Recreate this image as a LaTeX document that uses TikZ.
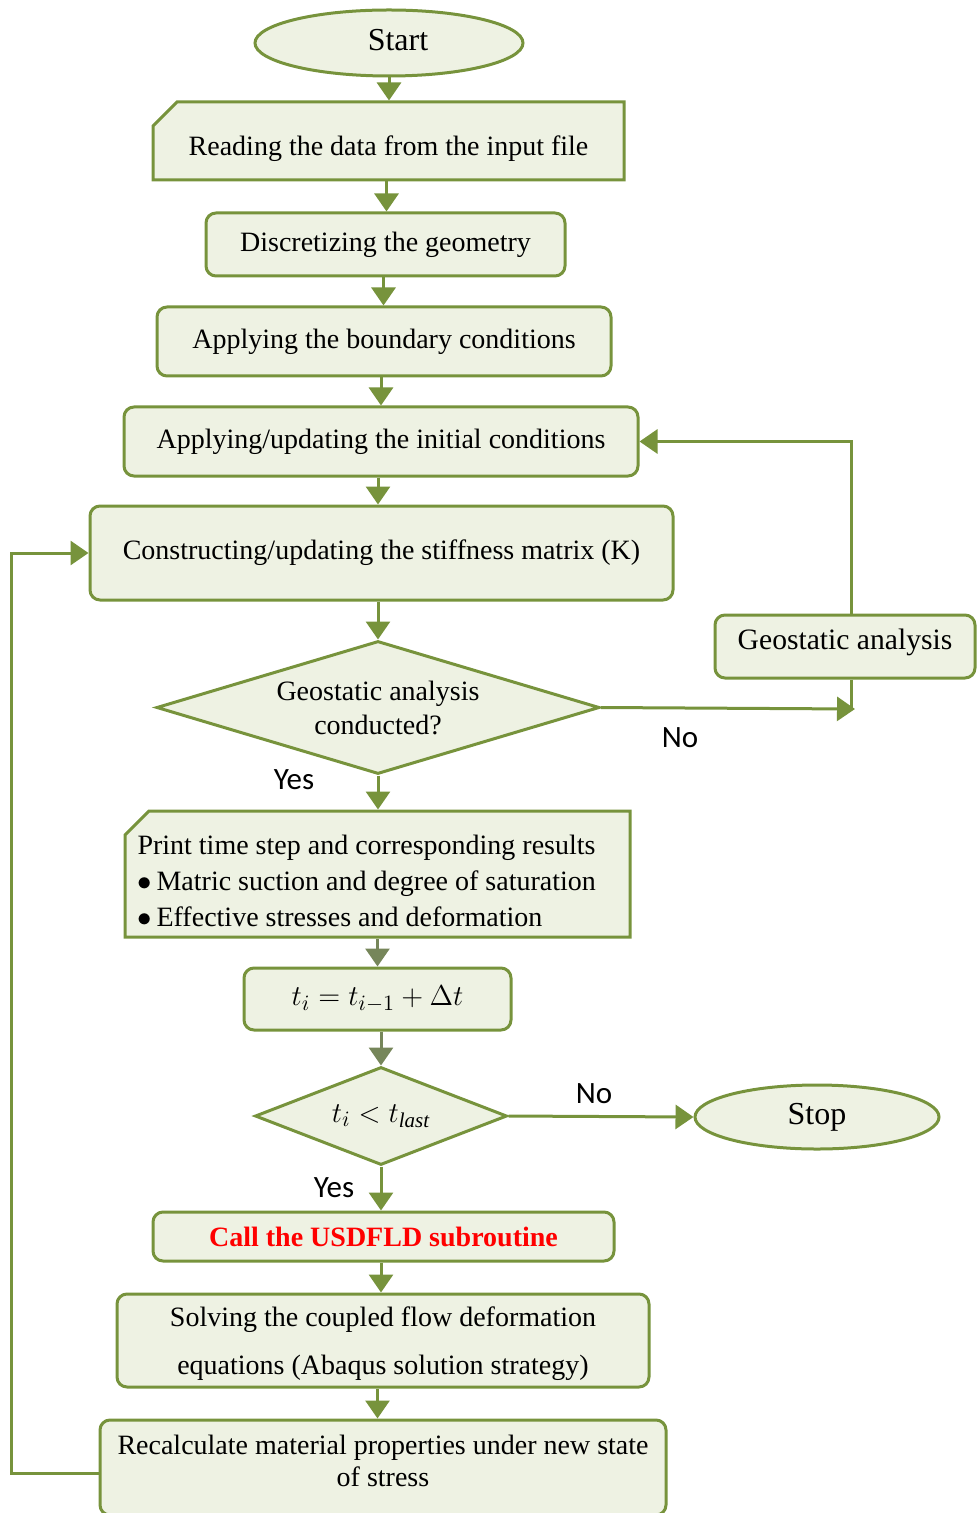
\documentclass[tikz,border=0pt]{standalone}
\usepackage{fontspec}
\setmainfont{Liberation Serif}
\newfontfamily\lblfont{Carlito}
\usetikzlibrary{shapes.geometric,shapes.misc,arrows.meta}
\definecolor{edge}{HTML}{77933C}
\definecolor{boxfill}{HTML}{EEF2E3}
\definecolor{greyarrow}{HTML}{76865A}
\definecolor{callred}{HTML}{FF0000}

\begin{document}
\begin{tikzpicture}[x=0.5pt,y=-0.5pt,
  every node/.style={font=\fontsize{14}{17}\selectfont},
  base/.style={draw=edge, fill=boxfill, line width=1.5pt, inner sep=0pt, align=center},
  rbox/.style={base, rectangle, rounded corners=5pt},
  cbox/.style={base, chamfered rectangle, chamfered rectangle corners=north west,
               chamfered rectangle xsep=6pt, chamfered rectangle ysep=6pt},
  oval/.style={base, ellipse, font=\fontsize{16}{19}\selectfont},
  choice/.style={base, diamond},
  arr/.style={draw=edge, line width=1.5pt, -{Triangle[width=12pt,length=9pt]}},
  garr/.style={arr, draw=greyarrow},
  link/.style={draw=edge, line width=1.5pt},
  lbl/.style={font=\lblfont\fontsize{15.5}{18}\selectfont}]

\useasboundingbox (0,0) rectangle (977,1513);

% main column
\node[oval, minimum width=134pt, minimum height=33pt] (start) at (389,43)
  {\hspace*{9pt}Start\rule[-3pt]{0pt}{3pt}};
\node[cbox, minimum width=235.5pt, minimum height=39pt] (read) at (388.5,141)
  {\rule{0pt}{18pt}Reading the data from the input file};
\node[rbox, minimum width=179.5pt, minimum height=31.5pt] (disc) at (385.5,244.5)
  {Discretizing the geometry};
\node[rbox, minimum width=227pt, minimum height=34.5pt] (bound) at (384,341.5)
  {Applying the boundary conditions};
\node[rbox, minimum width=257pt, minimum height=34.5pt] (init) at (381,441.5)
  {Applying/updating the initial conditions};
\node[rbox, minimum width=291.5pt, minimum height=47pt] (stiff) at (381.5,553)
  {Constructing/updating the stiffness matrix (K)};
\node[choice, shape aspect=3.3, minimum width=221.5pt, minimum height=66.5pt] (geoq) at (378,707.5)
  {Geostatic analysis\\conducted?};
\node[rbox, minimum width=130pt, minimum height=31.5pt, font=\fontsize{14.8}{17}\selectfont]
  (geo) at (845,646.5) {Geostatic analysis\rule[-7pt]{0pt}{7pt}};
\node[cbox, minimum width=252.5pt, minimum height=63pt, text width=240pt, text depth=29pt,
      inner xsep=0pt, align=flush left, font=\fontsize{14}{18}\selectfont] (print) at (377.5,874)
  {Print time step and corresponding results\\
   $\bullet$\,Matric suction and degree of saturation\\
   $\bullet$\,Effective stresses and deformation};
\node[rbox, minimum width=133.5pt, minimum height=31pt, font=\fontsize{15}{18}\selectfont]
  (step) at (377.5,999) {$t_i = t_{i-1} + \Delta t$};
\node[choice, shape aspect=2.57, minimum width=126pt, minimum height=49pt,
      font=\fontsize{15}{18}\selectfont]
  (tq) at (381,1116) {$t_i < t_{\mathit{last}}$};
\node[oval, minimum width=122pt, minimum height=32pt] (stop) at (817,1117) {Stop};
\node[rbox, minimum width=230.5pt, minimum height=24.5pt, text=callred,
      font=\bfseries\fontsize{14}{17}\selectfont] (call) at (383.5,1236.5)
  {Call the USDFLD subroutine};
\node[rbox, minimum width=266pt, minimum height=46.5pt, font=\fontsize{14}{24}\selectfont]
  (solve) at (383,1340.5)
  {\rule{0pt}{13pt}Solving the coupled flow deformation\\equations (Abaqus solution strategy)};
\node[rbox, minimum width=283pt, minimum height=47.5pt, font=\fontsize{14}{16}\selectfont]
  (recalc) at (383,1467.5)
  {Recalculate material properties under new state\\of stress\rule[-7pt]{0pt}{7pt}};

% straight connectors
\draw[arr] (start.south) -- (start.south |- read.north);
\draw[arr] ([xshift=-1pt]read.south) -- ([xshift=-1pt]read.south |- disc.north);
\draw[arr] ([xshift=-1pt]disc.south) -- ([xshift=-1pt]disc.south |- bound.north);
\draw[arr] (bound.south -| init.north) -- (init.north);
\draw[arr] (init.south -| geoq.north) -- (geoq.north |- stiff.north);
\draw[arr] (stiff.south -| geoq.north) -- (geoq.north);
\draw[arr] (geoq.south) -- (geoq.south |- print.north);
\draw[garr] (print.south -| step.north) -- (step.north);
\draw[garr] (step.south -| tq.north) -- (tq.north);
\draw[arr] (tq.east) -- (stop.west);
\draw[arr] (tq.south) -- (tq.south |- call.north);
\draw[arr] (call.south -| tq.south) -- (tq.south |- solve.north);
\draw[arr] (solve.south -| step.north) -- (step.north |- recalc.north);

% geostatic branch
\coordinate (gj) at (851,709);
\draw[link] (geo.south -| gj) -- (gj);
\draw[arr] (geoq.east) -- ([xshift=2pt]gj);
\draw[arr] (geo.north -| gj) -- (gj |- init.east) -- (init.east);

% loop back to the stiffness matrix
\coordinate (lb) at (11,1473);
\draw[arr] (recalc.west |- lb) -- (lb) -- (lb |- stiff.west) -- (stiff.west);

% branch labels
\node[lbl] (no1) at (680,738) {No};
\node[lbl] (yes1) at (294,780) {Yes};
\node[lbl] (no2) at (594,1094) {No};
\node[lbl] (yes2) at (334,1188) {Yes};
\end{tikzpicture}
\end{document}
